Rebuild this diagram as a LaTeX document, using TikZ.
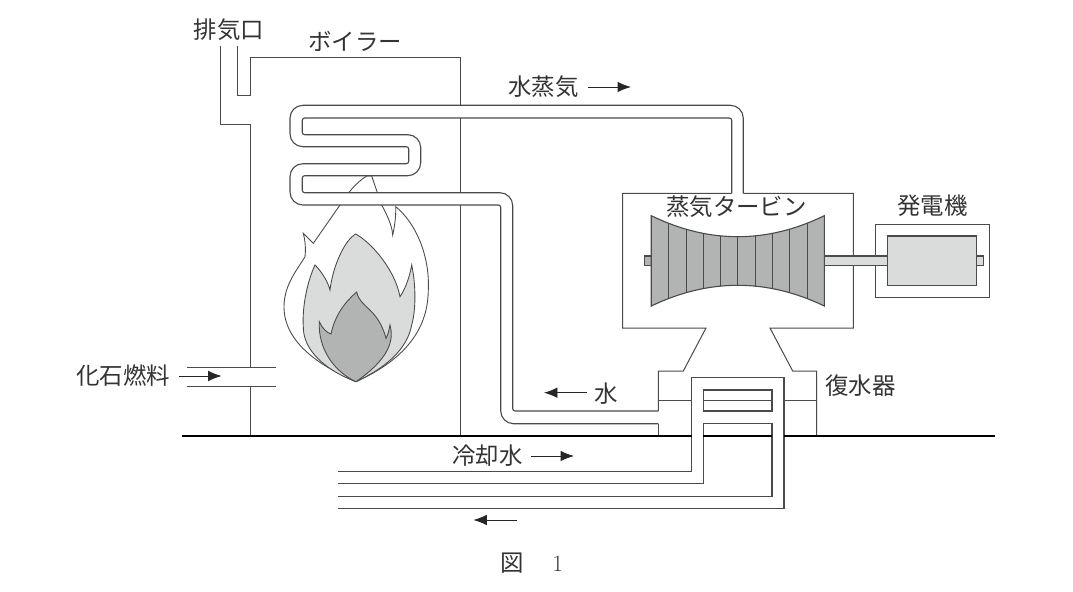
\documentclass[tikz,border=0pt]{standalone}
\usepackage{fontspec}
\usetikzlibrary{arrows.meta}
\newfontfamily\jpfont{Noto Sans CJK JP}
\definecolor{linegray}{HTML}{4A4A4A}
\definecolor{darkfill}{HTML}{B2B4B3}
\definecolor{lightfill}{HTML}{DADCDB}
\begin{document}
\begin{tikzpicture}[x=0.3mm,y=0.3mm,
  wall/.style={draw=linegray,line width=0.85pt},
  pipe/.style={draw=linegray,line width=0.95pt},
  flame/.style={draw=linegray,line width=0.75pt},
  flow/.style={draw=black!85,line width=0.8pt,-{Latex[length=11.5pt,width=9pt]}},
  big/.style={rounded corners=11pt},
  small/.style={rounded corners=2pt}]
\tikzstyle{every node}+=[inner sep=0pt,text=black!80,font=\jpfont\fontsize{20}{22}\selectfont]
\useasboundingbox (0,0) rectangle (1073,-592);
% flames
\draw [flame,fill=white] (356,-381.7) .. controls (325,-368) and (284,-345) .. (284,-306.7) .. controls (284,-285) and (297,-270) .. (305,-256.7) .. controls (306,-248) and (305,-240) .. (303.3,-233.3) -- (313.3,-243.3) -- (340,-205) .. controls (345,-197) and (355,-183) .. (366.7,-176) -- (371.7,-176) -- (377.3,-192.7) -- (381.7,-205) .. controls (387,-215) and (392,-225) .. (392.7,-235) .. controls (395,-225) and (396,-215) .. (395.7,-206.7) .. controls (415,-222) and (430,-255) .. (428.3,-290) .. controls (428,-320) and (415,-355) .. (356,-381.7);
\draw [flame,fill=lightfill] (356,-381.7) .. controls (325,-370) and (303,-350) .. (303.3,-326.7) .. controls (302,-305) and (308,-280) .. (315,-265) .. controls (322,-272) and (328,-282) .. (330,-290) .. controls (333,-265) and (345,-240) .. (355.7,-234) .. controls (372,-243) and (395,-270) .. (400,-296.7) .. controls (406,-288) and (410,-275) .. (411.7,-265) .. controls (416,-285) and (416,-310) .. (411.7,-325) .. controls (407,-350) and (385,-368) .. (356,-381.7);
\draw [flame,fill=darkfill] (356,-381.7) .. controls (335,-372) and (318,-350) .. (319.3,-321.7) .. controls (322,-328) and (327,-333) .. (331,-334) .. controls (335,-315) and (345,-302) .. (356.7,-292) .. controls (360,-308) and (378,-308) .. (386,-338.3) .. controls (388,-335) and (389,-330) .. (390,-325) .. controls (394,-340) and (390,-358) .. (356,-381.7);
\fill [white] (330,-192.7) rectangle (405,-205);
% boiler
\draw [wall] (220.3,-46) -- (220.3,-124.3) -- (250.7,-124.3) -- (250.7,-367.3);
\draw [wall] (250.7,-386) -- (250.7,-436);
\draw [wall] (237.7,-46) -- (237.7,-95.3) -- (250.7,-95.3) -- (250.7,-57.3) -- (460.7,-57.3) -- (460.7,-105.3);
\draw [wall] (460.7,-118) -- (460.7,-192.7);
\draw [wall] (460.7,-205) -- (460.7,-436);
\draw [wall] (186.7,-367.3) -- (275.7,-367.3);
\draw [wall] (186.7,-386) -- (275.7,-386);
% steam and water pipe
\draw [pipe] (743.3,-193.3) [big] -- (743.3,-105.3) -- (290,-105.3) -- (290,-146.7) [small] -- (408.7,-146.7) -- (408.7,-163.7) [big] -- (290,-163.7) -- (290,-205) [small] -- (500.7,-205) [big] -- (500.7,-423.7) -- (658.3,-423.7);
\draw [pipe] (731.7,-193.3) [small] -- (731.7,-118) -- (302.3,-118) -- (302.3,-134.7) [big] -- (420.7,-134.7) -- (420.7,-175.7) [small] -- (302.3,-175.7) -- (302.3,-192.7) [big] -- (512.7,-192.7) [small] -- (512.7,-411) -- (658.3,-411);
% turbine casing
\draw [wall] (731.7,-193.3) -- (622.7,-193.3) -- (622.7,-328) -- (706,-328) -- (683.3,-371) -- (658.3,-371) -- (658.3,-411);
\draw [wall] (658.3,-423.7) -- (658.3,-436);
\draw [wall] (743.3,-193.3) -- (853.3,-193.3) -- (853.3,-328) -- (770,-328) -- (792.7,-371) -- (816.7,-371) -- (816.7,-436);
\draw [wall] (875,-224) rectangle (989,-297);
% rotor and generator
\draw [pipe,fill=darkfill] (644.7,-256) rectangle (651.3,-265.3);
\draw [pipe,fill=lightfill] (824.3,-256) rectangle (887.3,-265.3);
\draw [pipe,fill=lightfill] (976.7,-256) rectangle (983.3,-265.3);
\draw [pipe,fill=lightfill] (887.3,-236) rectangle (976.7,-285.3);
\draw [pipe,fill=darkfill] (651.3,-215.7) .. controls (680.1,-229.7) and (708.9,-236.7) .. (737.8,-236.7) .. controls (766.7,-236.7) and (795.5,-229.7) .. (824.3,-215.7) -- (824.3,-306) .. controls (795.5,-292.2) and (766.7,-285.3) .. (737.8,-285.3) .. controls (708.9,-285.3) and (680.1,-292.2) .. (651.3,-306) -- cycle;
\begin{scope}
\clip (651.3,-215.7) .. controls (680.1,-229.7) and (708.9,-236.7) .. (737.8,-236.7) .. controls (766.7,-236.7) and (795.5,-229.7) .. (824.3,-215.7) -- (824.3,-306) .. controls (795.5,-292.2) and (766.7,-285.3) .. (737.8,-285.3) .. controls (708.9,-285.3) and (680.1,-292.2) .. (651.3,-306) -- cycle;
\foreach \x in {668.7,686.3,703.7,720.7,737.7,755,772.3,789.7,807}
  \draw [draw=linegray,line width=0.7pt] (\x,-210) -- (\x,-310);
\end{scope}
% condenser
\draw [wall] (658.3,-400.7) -- (691.7,-400.7);
\draw [wall] (784,-400.7) -- (816.7,-400.7);
\draw [wall] (703.3,-400.7) -- (772,-400.7);
\draw [pipe] (338,-471.3) -- (691.7,-471.3) -- (691.7,-377.7) -- (784,-377.7) -- (784,-508.5) -- (338,-508.5);
\draw [pipe] (338,-483.3) -- (703.3,-483.3) -- (703.3,-423.7) -- (772,-423.7) -- (772,-496.2) -- (338,-496.2);
\draw [pipe] (703.3,-390) rectangle (772,-411);
% floor
\draw [black,line width=1.5pt] (181.7,-435.7) -- (691.7,-435.7);
\draw [black,line width=1.5pt] (703.3,-435.7) -- (772,-435.7);
\draw [black,line width=1.5pt] (784,-435.7) -- (995,-435.7);
% arrows
\draw [flow] (588,-87) -- (631,-87);
\draw [flow] (586.7,-392.7) -- (544,-392.7);
\draw [flow] (531,-456) -- (574,-456);
\draw [flow] (516.7,-520) -- (473.3,-520);
\draw [flow] (179,-376) -- (221.7,-376);
% labels
\node (exhaust) at (229,-30) {排気口};
\node (boiler) at (355,-41) {ボイラー};
\node (steam) at (543.5,-87) {水蒸気};
\node (turbine) at (736.5,-207) {蒸気タービン};
\node (generator) at (932.5,-206) {発電機};
\node (condenser) at (860.5,-386) {復水器};
\node (water) at (606,-394) {水};
\node (cooling) at (487.5,-456) {冷却水};
\node (fuel) at (123,-376) {化石燃料};
\node (caption) at (532,-563) {図\hspace{24pt}{\rmfamily 1}};
\end{tikzpicture}
\end{document}
